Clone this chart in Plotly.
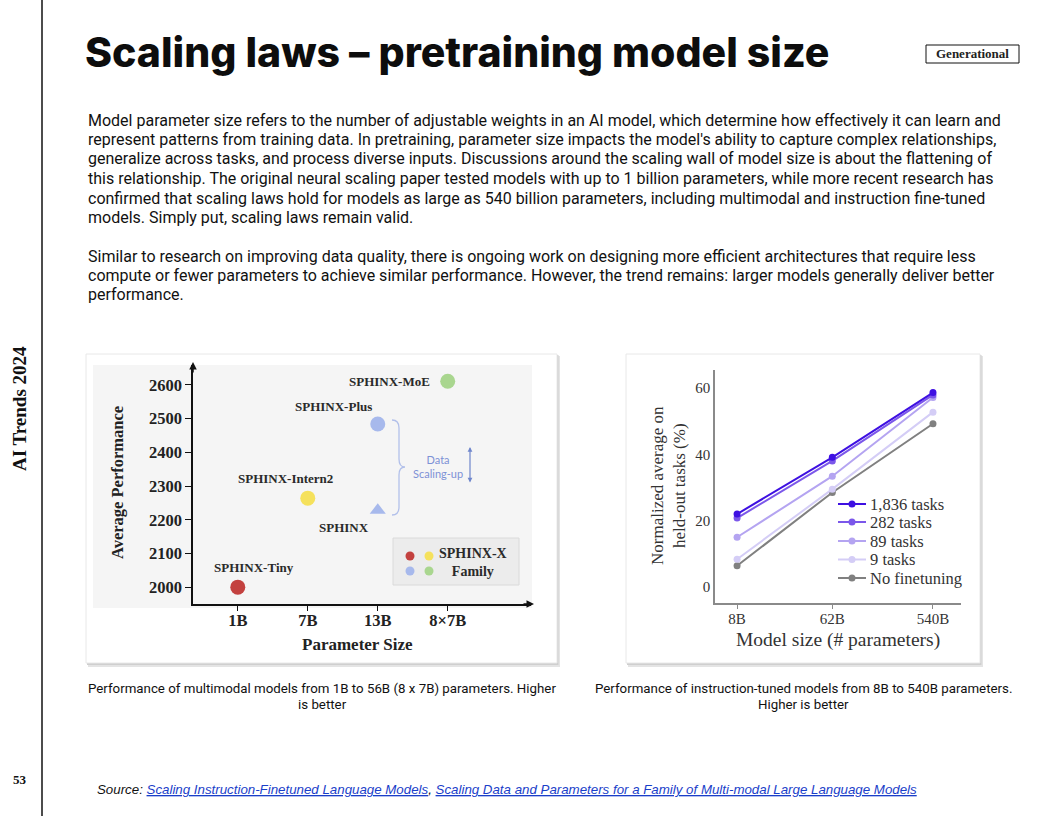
import plotly.graph_objects as go

W, H = 1056, 816

# ---------------- data ----------------
size_categories = ['1B', '7B', '13B', '8×7B']
sphinx_models = ['SPHINX-Tiny', 'SPHINX-Intern2', 'SPHINX-Plus', 'SPHINX', 'SPHINX-MoE']
sphinx_sizes = ['1B', '7B', '13B', '13B', '8×7B']
sphinx_perf = [2000, 2264, 2484, 2228, 2611]
sphinx_colors = ['#c3413f', '#f5e15c', '#a7b9ec', '#a7b9ec', '#a9d68f']
sphinx_symbols = ['circle', 'circle', 'circle', 'triangle-up', 'circle']
left_yticks = [2000, 2100, 2200, 2300, 2400, 2500, 2600]

flan_sizes = [8, 62, 540]
flan_size_labels = ['8B', '62B', '540B']
flan_series = ['No finetuning', '9 tasks', '89 tasks', '282 tasks', '1,836 tasks']
flan_values = {
    'No finetuning': [6.4, 28.5, 49.2],
    '9 tasks': [8.4, 29.5, 52.7],
    '89 tasks': [15.0, 33.4, 57.1],
    '282 tasks': [20.8, 38.0, 57.9],
    '1,836 tasks': [22.0, 39.1, 58.6],
}
flan_colors = {
    'No finetuning': '#808080',
    '9 tasks': '#d4cdf6',
    '89 tasks': '#b4a4f1',
    '282 tasks': '#7b57ea',
    '1,836 tasks': '#3e10e2',
}
right_yticks = [0, 20, 40, 60]


def px(x):
    return x / W


def py(y):
    return 1 - y / H


fig = go.Figure()

# ---------------- left chart (SPHINX) ----------------
xs = [size_categories.index(s) for s in sphinx_sizes]
fig.add_trace(go.Scatter(
    x=xs, y=sphinx_perf, mode='markers', xaxis='x', yaxis='y',
    marker=dict(size=[15, 15, 15, 14, 15], color=sphinx_colors, symbol=sphinx_symbols,
                opacity=1, line=dict(width=0)),
    showlegend=False, hoverinfo='skip'))

# ---------------- right chart (Flan) ----------------
for name in flan_series:
    fig.add_trace(go.Scatter(
        x=flan_sizes, y=flan_values[name], mode='lines+markers', name=name,
        xaxis='x2', yaxis='y2',
        line=dict(color=flan_colors[name], width=2),
        marker=dict(color=flan_colors[name], size=7, opacity=1),
        showlegend=False, hoverinfo='skip'))

serif = 'Liberation Serif'
sans = 'Roboto'

shapes = []
annotations = []

# left vertical rule
shapes.append(dict(type='line', xref='paper', yref='paper', x0=px(42), x1=px(42), y0=0, y1=1,
                   line=dict(color='#111111', width=1.5)))

# cards (shadow + white)
for (x0, y0, x1, y1) in [(86, 354, 557, 663), (626, 354, 980, 663)]:
    shapes.append(dict(type='rect', xref='paper', yref='paper', x0=px(x0 + 2), x1=px(x1 + 3),
                       y0=py(y0 + 2), y1=py(y1 + 4), fillcolor='#e4e4e4', line=dict(width=0), layer='below'))
    shapes.append(dict(type='rect', xref='paper', yref='paper', x0=px(x0 + 1), x1=px(x1 + 1.5),
                       y0=py(y0 + 1), y1=py(y1 + 2), fillcolor='#cfcfcf', line=dict(width=0), layer='below'))
    shapes.append(dict(type='rect', xref='paper', yref='paper', x0=px(x0), x1=px(x1),
                       y0=py(y0), y1=py(y1), fillcolor='#ffffff', line=dict(color='#e8e8e8', width=1), layer='below'))
# light grey panel in left card
shapes.append(dict(type='rect', xref='paper', yref='paper', x0=px(93), x1=px(532),
                   y0=py(365), y1=py(608), fillcolor='#f5f5f5', line=dict(width=0), layer='below'))

# Generational tag
shapes.append(dict(type='rect', xref='paper', yref='paper', x0=px(926), x1=px(1019),
                   y0=py(45), y1=py(63), line=dict(color='#111111', width=1), fillcolor='white'))
annotations.append(dict(text='<b>Generational</b>', x=px(972.5), y=py(54), xref='paper', yref='paper',
                        showarrow=False, font=dict(family=serif, size=13, color='#222222'),
                        xanchor='center', yanchor='middle'))

# title
annotations.append(dict(text='Scaling laws – pretraining model size', x=px(83), y=py(52),
                        xref='paper', yref='paper', showarrow=False, xanchor='left', yanchor='middle',
                        font=dict(family='Inter', size=41, color='#0d0d0d', weight=800)))

# side texts
annotations.append(dict(text='<b>AI Trends 2024</b>', x=px(19), y=py(409), xref='paper', yref='paper',
                        showarrow=False, textangle=-90, font=dict(family=serif, size=19, color='#111111'),
                        xanchor='center', yanchor='middle'))
annotations.append(dict(text='<b>53</b>', x=px(20), y=py(779), xref='paper', yref='paper',
                        showarrow=False, font=dict(family=serif, size=13, color='#111111'),
                        xanchor='center', yanchor='middle'))

body_lines = [
    (120, "Model parameter size refers to the number of adjustable weights in an AI model, which determine how effectively it can learn and"),
    (139.5, "represent patterns from training data. In pretraining, parameter size impacts the model's ability to capture complex relationships,"),
    (159, "generalize across tasks, and process diverse inputs. Discussions around the scaling wall of model size is about the flattening of"),
    (178.5, "this relationship. The original neural scaling paper tested models with up to 1 billion parameters, while more recent research has"),
    (198, "confirmed that scaling laws hold for models as large as 540 billion parameters, including multimodal and instruction fine-tuned"),
    (217.5, "models. Simply put, scaling laws remain valid."),
    (256, "Similar to research on improving data quality, there is ongoing work on designing more efficient architectures that require less"),
    (275, "compute or fewer parameters to achieve similar performance. However, the trend remains: larger models generally deliver better"),
    (294.5, "performance."),
]
for yy, t in body_lines:
    annotations.append(dict(text=t, x=px(86), y=py(yy), xref='paper', yref='paper', showarrow=False,
                            xanchor='left', yanchor='middle', font=dict(family=sans, size=16, color='#111111')))

# captions
cap_font = dict(family=sans, size=13.3, color='#111111')
for xc, yy, t in [(322, 688, 'Performance of multimodal models from 1B to 56B (8 x 7B) parameters. Higher'),
                  (322, 704, 'is better'),
                  (803, 688, 'Performance of instruction-tuned models from 8B to 540B parameters.'),
                  (803, 704, 'Higher is better')]:
    annotations.append(dict(text=t, x=px(xc), y=py(yy), xref='paper', yref='paper', showarrow=False,
                            xanchor='center', yanchor='middle', font=cap_font))

# source
link = "<span style='color:#1a3ec9'><u>%s</u></span>"
src = ("<i>Source: " + link % 'Scaling Instruction-Finetuned Language Models' + ", " +
       link % 'Scaling Data and Parameters for a Family of Multi-modal Large Language Models' + "</i>")
annotations.append(dict(text=src, x=px(95), y=py(789), xref='paper', yref='paper', showarrow=False,
                        xanchor='left', yanchor='middle', font=dict(family='Liberation Sans', size=13.3, color='#111111')))

# ---- left chart decorations ----
lab_font = dict(family=serif, size=13, color='#2a2a2a')
offsets = {'SPHINX-Tiny': (16, 20), 'SPHINX-Intern2': (-22, 20), 'SPHINX-Plus': (-44, 17),
           'SPHINX': (-34, -17), 'SPHINX-MoE': (-58, 0)}
for m, xv, yv in zip(sphinx_models, xs, sphinx_perf):
    dx, dy = offsets[m]
    annotations.append(dict(text='<b>%s</b>' % m, x=xv, y=yv, xref='x', yref='y', showarrow=False,
                            xshift=dx, yshift=dy, font=lab_font, xanchor='center', yanchor='middle'))

# axis titles left
annotations.append(dict(text='<b>Average Performance</b>', x=px(117), y=py(483), xref='paper', yref='paper',
                        showarrow=False, textangle=-90, font=dict(family=serif, size=16.5, color='#222222'),
                        xanchor='center', yanchor='middle'))
annotations.append(dict(text='<b>Parameter Size</b>', x=px(357), y=py(644), xref='paper', yref='paper',
                        showarrow=False, font=dict(family=serif, size=17, color='#222222'),
                        xanchor='center', yanchor='middle'))
# axis arrows
annotations.append(dict(text='', x=px(534), y=py(604), ax=-12, ay=0, xref='paper', yref='paper',
                        showarrow=True, arrowhead=2, arrowsize=1, arrowwidth=1.5, arrowcolor='#111111'))
annotations.append(dict(text='', x=px(193), y=py(362), ax=0, ay=12, xref='paper', yref='paper',
                        showarrow=True, arrowhead=2, arrowsize=1, arrowwidth=1.5, arrowcolor='#111111'))

# brace
brace = ('M {a},{b} Q {c},{b} {c},{d} L {c},{e} Q {c},{f} {g},{f} Q {c},{f} {c},{h} L {c},{i} Q {c},{j} {a},{j}'
         .format(a=px(392), b=py(420), c=px(399), d=py(428), e=py(459), f=py(467), g=px(405),
                 h=py(475), i=py(507), j=py(515)))
shapes.append(dict(type='path', xref='paper', yref='paper', path=brace,
                   line=dict(color='#b2c0ea', width=1.3)))
annotations.append(dict(text='Data<br>Scaling-up', x=px(438), y=py(466), xref='paper', yref='paper',
                        showarrow=False, font=dict(family='Lato', size=11, color='#7d91d6'),
                        xanchor='center', yanchor='middle'))
annotations.append(dict(text='', x=px(470), y=py(447), ax=0, ay=37, xref='paper', yref='paper',
                        showarrow=True, arrowhead=2, arrowside='end+start', arrowsize=0.8, arrowwidth=1.2,
                        arrowcolor='#6f86cc'))

# family legend box
shapes.append(dict(type='rect', xref='paper', yref='paper', x0=px(393), x1=px(519), y0=py(538), y1=py(585),
                   fillcolor='#ececec', line=dict(color='#dadada', width=1)))
for (cx, cy, col) in [(410, 556, '#c3413f'), (429, 556, '#f5e15c'), (410, 571, '#a7b9ec'), (429, 571, '#a9d68f')]:
    shapes.append(dict(type='circle', xref='paper', yref='paper', x0=px(cx - 4.5), x1=px(cx + 4.5),
                       y0=py(cy - 4.5), y1=py(cy + 4.5), fillcolor=col, line=dict(width=0)))
annotations.append(dict(text='<b>SPHINX-X<br>Family</b>', x=px(473), y=py(562), xref='paper', yref='paper',
                        showarrow=False, font=dict(family=serif, size=14, color='#2a2a2a'),
                        xanchor='center', yanchor='middle'))

# right axis titles
annotations.append(dict(text='Normalized average on<br>held-out tasks (%)', x=px(668), y=py(486),
                        xref='paper', yref='paper', showarrow=False, textangle=-90,
                        font=dict(family=serif, size=17, color='#333333'), xanchor='center', yanchor='middle'))
annotations.append(dict(text='Model size (# parameters)', x=px(838), y=py(640), xref='paper', yref='paper',
                        showarrow=False, font=dict(family=serif, size=19.5, color='#333333'),
                        xanchor='center', yanchor='middle'))

# right chart manual legend (top entry = 1,836 tasks)
leg_rows = [504, 522, 541, 559.5, 578]
for name, yy in zip(reversed(flan_series), leg_rows):
    col = flan_colors[name]
    shapes.append(dict(type='line', xref='paper', yref='paper', x0=px(838), x1=px(866), y0=py(yy), y1=py(yy),
                       line=dict(color=col, width=2)))
    shapes.append(dict(type='circle', xref='paper', yref='paper', x0=px(852 - 3.5), x1=px(852 + 3.5),
                       y0=py(yy - 3.5), y1=py(yy + 3.5), fillcolor=col, line=dict(width=0)))
    annotations.append(dict(text=name, x=px(868), y=py(yy), xref='paper', yref='paper', showarrow=False,
                            xanchor='left', yanchor='middle', font=dict(family=serif, size=16.5, color='#333333')))

fig.update_layout(
    width=W, height=H, autosize=False,
    margin=dict(l=0, r=0, t=0, b=0),
    paper_bgcolor='white', plot_bgcolor='rgba(0,0,0,0)',
    shapes=shapes, annotations=annotations,
    xaxis=dict(domain=[px(193), px(531)], range=[-0.64, 4.19], tickvals=list(range(len(size_categories))),
               ticktext=['<b>%s</b>' % c for c in size_categories], showline=True, linecolor='#111111',
               linewidth=1.5, ticks='outside', ticklen=5, tickcolor='#111111', showgrid=False, zeroline=False,
               ticklabelstandoff=-5,
               tickfont=dict(family=serif, size=16.5, color='#222222'), anchor='y', fixedrange=True),
    yaxis=dict(domain=[py(604), py(365)], range=[1950, 2659], tickvals=left_yticks,
               ticktext=['<b>%d</b>' % v for v in left_yticks], showline=True, linecolor='#111111',
               linewidth=1.5, ticks='outside', ticklen=6, tickcolor='#111111', showgrid=False, zeroline=False,
               tickfont=dict(family=serif, size=16.5, color='#222222'), anchor='x', fixedrange=True),
    xaxis2=dict(domain=[px(715), px(961)], type='log', range=[0.697, 2.994], tickvals=flan_sizes,
                ticktext=flan_size_labels, showline=True, linecolor='#8a8a8a', linewidth=1.5,
                ticks='outside', ticklen=4, tickcolor='#8a8a8a', showgrid=False, zeroline=False,
                ticklabelstandoff=-3,
                tickfont=dict(family=serif, size=15, color='#333333'), anchor='y2', fixedrange=True),
    yaxis2=dict(domain=[py(603), py(370)], range=[-4.8, 65.4], tickvals=right_yticks, showline=True,
                linecolor='#8a8a8a', linewidth=1.5, ticks='', showgrid=False, zeroline=False,
                tickfont=dict(family=serif, size=15, color='#333333'), anchor='x2', fixedrange=True),
    showlegend=False,
)

fig.write_html("out.html", config={'displayModeBar': False},
               post_script="document.body.style.margin='0';document.body.style.overflow='hidden';")
